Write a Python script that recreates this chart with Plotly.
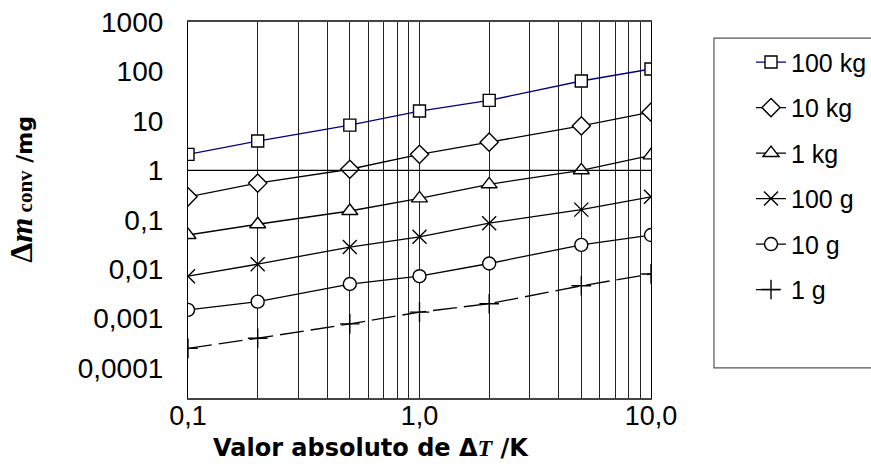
import plotly.graph_objects as go

# ---- data ----
delta_T = [0.1, 0.2, 0.5, 1.0, 2.0, 5.0, 10.0]
m_100kg = [2.1, 3.9, 8.2, 15.8, 26, 64, 112]
m_10kg = [0.29, 0.55, 1.05, 2.1, 3.7, 7.9, 15]
m_1kg = [0.049, 0.081, 0.15, 0.27, 0.52, 1.0, 2.0]
m_100g = [0.0072, 0.0126, 0.028, 0.045, 0.085, 0.16, 0.29]
m_10g = [0.0015, 0.0022, 0.005, 0.0072, 0.013, 0.031, 0.049]
m_1g = [0.00025, 0.0004, 0.00078, 0.00135, 0.002, 0.0046, 0.008]
series_names = ["100 kg", "10 kg", "1 kg", "100 g", "10 g", "1 g"]

y_tickvals = [1e-4, 1e-3, 1e-2, 1e-1, 1, 10, 100, 1000]
y_ticktext = ["0,0001", "0,001", "0,01", "0,1", "1", "10", "100", "1000"]
x_gridvals = [0.1, 0.2, 0.3, 0.4, 0.5, 0.6, 0.7, 0.8, 0.9,
              1, 2, 3, 4, 5, 6, 7, 8, 9, 10]
x_labels = {0.1: "0,1", 1: "1,0", 10: "10,0"}

series = [m_100kg, m_10kg, m_1kg, m_100g, m_10g, m_1g]
symbols = ["square", "diamond", "triangle-up", "x-thin", "circle", "cross-thin"]
sizes = [12, 14, 14, 14, 13, 14]
fills = ["white", "white", "white", "black", "white", "black"]
colors = ["#000080", "black", "black", "black", "black", "black"]
dashes = ["solid", "solid", "solid", "solid", "solid", "24px,7px"]

fig = go.Figure()
for i, (name, ys) in enumerate(zip(series_names, series)):
    fig.add_trace(go.Scatter(
        x=delta_T, y=ys, name=name, mode="lines+markers",
        legendgroup=f"g{i}",
        line=dict(color=colors[i], width=1.3, dash=dashes[i]),
        marker=dict(symbol=symbols[i], size=sizes[i], color=fills[i],
                    line=dict(color="black", width=1.4)),
    ))

ymin, ymax = -4.607, 3
fig.update_layout(
    width=871, height=466,
    margin=dict(l=188, r=220, t=22, b=68, autoexpand=False),
    paper_bgcolor="white", plot_bgcolor="white",
    showlegend=True,
    font=dict(family="Liberation Sans, Arial, sans-serif", color="black"),
    legend=dict(x=1.216, y=0.954, xanchor="left", yanchor="top",
                font=dict(size=25, family="Liberation Sans, Arial"),
                bgcolor="rgba(0,0,0,0)", borderwidth=0,
                tracegroupgap=10, traceorder="grouped"),
    xaxis=dict(type="log", range=[-1, 1],
               tickvals=x_gridvals,
               ticktext=[x_labels.get(v, "") for v in x_gridvals],
               tickfont=dict(size=27),
               showgrid=True, gridcolor="#222", gridwidth=1,
               showline=True, linecolor="#444", linewidth=1.5, mirror=True,
               ticks="", zeroline=False, ticklabelstandoff=-7),
    yaxis=dict(type="log", range=[ymin, ymax],
               tickvals=y_tickvals, ticktext=y_ticktext,
               tickfont=dict(size=28),
               showgrid=False, showline=True, linecolor="black", linewidth=1.2,
               mirror=True, ticks="", ticklabelstandoff=18, zeroline=False),
    yaxis2=dict(type="log", range=[ymin, ymax], overlaying="y", anchor="free",
                position=0.5, side="left",
                tickvals=y_tickvals, showticklabels=False,
                ticks="outside", ticklen=9, tickcolor="black", tickwidth=1.2,
                showline=True, linecolor="black", linewidth=1.6,
                showgrid=False, zeroline=False),
)

# horizontal axis line crossing at y = 1
fig.add_shape(type="line", xref="paper", yref="y", x0=0, x1=1, y0=1, y1=1,
              line=dict(color="black", width=1.3))
# legend frame (extends beyond right edge as in the reference)
fig.add_shape(type="rect", xref="paper", yref="paper",
              x0=1.136, x1=1.6, y0=0.08, y1=0.957,
              line=dict(color="#555", width=1.2), fillcolor="rgba(0,0,0,0)")

fig.add_annotation(
    xref="paper", yref="paper", x=0.396, y=-0.132, showarrow=False,
    text="<b>Valor absoluto de Δ<span style='font-family:Liberation Serif'><i>T</i></span> /K</b>",
    font=dict(size=24, family="DejaVu Sans, Verdana, sans-serif"),
    xanchor="center", yanchor="middle")
fig.add_annotation(
    xref="paper", yref="paper", x=-0.36, y=0.555, showarrow=False, textangle=-90,
    text=("<b><span style='font-family:Liberation Serif;font-size:32px'>Δ<i>m</i></span>"
          "<span style='font-family:Liberation Serif;font-size:21px'> conv</span>"
          " /mg</b>"),
    font=dict(size=22, family="DejaVu Sans, Verdana, sans-serif"),
    xanchor="center", yanchor="middle")

fig.write_html("out.html")
